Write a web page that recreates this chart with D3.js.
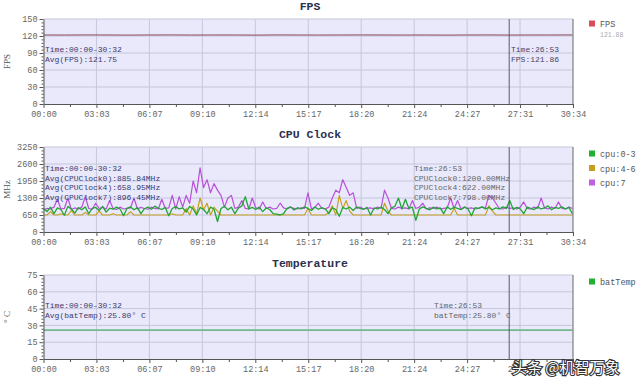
<!DOCTYPE html>
<html><head><meta charset="utf-8">
<script src="https://cdn.jsdelivr.net/npm/d3@7/dist/d3.min.js"></script>
<style>
html,body{margin:0;padding:0;background:#fff;}
svg{display:block;}
text{font-family:"Liberation Mono","DejaVu Sans Mono",monospace;}
</style></head>
<body>
<script>
// ---------------- data ----------------
const totalSeconds = 1834;               // 30:34 axis end
const xTickLabels = ["00:00","03:03","06:07","09:10","12:14","15:17","18:20","21:24","24:27","27:31","30:34"];
const cursorSeconds = 1613;              // 26:53
const sampleEnd = 1832;                  // 30:32

const fpsValues = [121.8,121.7,121.9,121.8,121.6,121.8,121.9,121.7,121.8,121.8,121.6,121.9,121.8,121.7,121.8,121.9,121.8,121.7,121.8,121.6,121.8,121.9,121.7,121.8,121.8,121.9];
const fpsTicks = [0,30,60,90,120,150];

const cpuTicks = [0,650,1300,1950,2600,3250];
const cpu03 = [900,780,950,700,920,860,640,980,880,720,
930,850,960,700,900,940,820,980,760,910,
870,950,880,620,900,960,850,930,700,890,
950,870,990,910,860,940,620,900,970,880,
920,760,980,880,650,940,860,700,950,880,
400,900,980,850,950,700,910,1000,1350,880,
940,860,950,780,920,860,700,680,650,700,
900,960,840,930,880,960,900,820,950,870,
930,880,700,920,860,600,940,880,950,820,
960,900,870,940,650,920,880,950,860,700,
920,980,1300,880,1250,900,950,450,880,960,
900,850,950,880,920,700,960,870,940,900,
860,950,880,620,930,900,960,880,940,850,
920,880,960,900,1200,860,940,880,700,950,
900,860,960,880,920,1000,850,940,900,960,
880,940,700];
const cpu46 = [650,650,780,650,650,700,650,650,820,650,
650,650,750,650,650,650,800,650,650,650,
700,650,650,650,650,780,650,650,650,650,
650,650,650,650,650,650,650,700,650,650,
650,900,650,1000,700,1300,850,1100,650,950,
800,650,650,650,650,650,650,650,650,650,
650,650,650,650,650,650,650,650,650,650,
650,650,650,650,650,650,900,650,650,650,
650,650,750,1000,650,1400,900,1200,800,650,
650,650,650,650,650,650,650,650,1100,800,
650,650,650,650,650,650,650,650,650,650,
650,650,650,650,650,650,650,650,900,650,
650,650,650,650,650,650,650,650,1000,800,
650,650,650,650,650,650,650,650,650,650,
650,650,650,650,650,650,650,650,650,650,
650,650,650];
const cpu7 = [850,900,880,950,1250,880,900,1300,860,920,
880,950,1350,900,870,1100,900,940,880,1200,
900,860,950,880,900,920,1300,880,940,900,
870,950,900,880,1250,900,920,1400,880,1350,
950,1400,1100,1950,1500,2450,1700,2000,1500,1850,
1600,1400,950,1300,1400,900,950,1200,900,880,
1300,920,880,1150,900,950,880,900,1100,920,
880,950,900,880,920,900,1500,880,950,1100,
900,880,950,1300,1600,1500,2000,1700,1400,1500,
900,950,880,900,920,880,950,900,1600,1300,
900,880,950,900,920,880,1200,900,950,1100,
880,920,900,950,880,900,920,1300,900,1200,
880,950,900,920,880,900,950,920,1400,1300,
1100,900,880,950,900,920,880,950,1150,900,
880,950,900,1300,920,880,950,900,1150,900,
880,950,900];

const tempValues = [25.8,25.8,25.8,25.8,25.8,25.8,25.8,25.8];
const tempTicks = [0,15,30,45,60,75];

// ---------------- layout ----------------
const W = 640, H = 385;
const svg = d3.select("body").append("svg").attr("width", W).attr("height", H);
const x = d3.scaleLinear().domain([0, totalSeconds]).range([43.5, 573]);
const majorSec = totalSeconds / 10;

function timeOf(arr, i){ return i * sampleEnd / (arr.length - 1); }

function panel(cfg){
  const y = d3.scaleLinear().domain([0, cfg.ticks[cfg.ticks.length-1]]).range([cfg.bottom, cfg.top]);
  const g = svg.append("g");
  g.append("rect").attr("x", x(0)).attr("y", cfg.top).attr("width", x(totalSeconds)-x(0)).attr("height", cfg.bottom-cfg.top).attr("fill", "#e9e9fb");
  d3.range(1,10).forEach(k=>{
    g.append("line").attr("x1", x(k*majorSec)).attr("x2", x(k*majorSec)).attr("y1", cfg.top).attr("y2", cfg.bottom).attr("stroke","#c6c6dc").attr("stroke-width",1);
  });
  cfg.ticks.slice(1).forEach(t=>{
    g.append("line").attr("x1", x(0)).attr("x2", x(totalSeconds)).attr("y1", y(t)).attr("y2", y(t)).attr("stroke","#c6c6dc").attr("stroke-width",1);
  });
  cfg.series.forEach(s=>{
    const line = d3.line().x((d,i)=>x(timeOf(s.values,i))).y(d=>y(d));
    g.append("path").datum(s.values).attr("d", line).attr("fill","none").attr("stroke", s.color).attr("stroke-width", s.width||1).attr("stroke-linejoin","round");
  });
  g.append("line").attr("x1", x(cursorSeconds)).attr("x2", x(cursorSeconds)).attr("y1", cfg.top).attr("y2", cfg.bottom).attr("stroke","#5a5a6a").attr("stroke-width",1);
  g.append("line").attr("x1", x(totalSeconds)).attr("x2", x(totalSeconds)).attr("y1", cfg.top).attr("y2", cfg.bottom).attr("stroke","#666").attr("stroke-width",1);
  const xAxis = d3.axisBottom(x).tickValues(d3.range(0,11).map(k=>k*majorSec)).tickFormat((d,i)=>xTickLabels[i]).tickSizeInner(4).tickSizeOuter(0).tickPadding(3);
  const xa = g.append("g").attr("transform", `translate(0,${cfg.bottom})`).call(xAxis);
  const xMinor = d3.axisBottom(x).tickValues(d3.range(0,10).map(k=>(k+0.5)*majorSec)).tickFormat("").tickSizeInner(3).tickSizeOuter(0);
  g.append("g").attr("transform", `translate(0,${cfg.bottom})`).call(xMinor).select(".domain").remove();
  const yAxis = d3.axisLeft(y).tickValues(cfg.ticks).tickFormat(d3.format("d")).tickSizeInner(4).tickSizeOuter(0).tickPadding(2);
  const ya = g.append("g").attr("transform", `translate(${x(0)},0)`).call(yAxis);
  const step = cfg.ticks[1]-cfg.ticks[0];
  const minor = [];
  for(let v=0; v<cfg.ticks[cfg.ticks.length-1]; v+=step/5){ if(Math.abs((v/step)-Math.round(v/step))>1e-6) minor.push(v); }
  g.append("g").attr("transform", `translate(${x(0)},0)`).call(d3.axisLeft(y).tickValues(minor).tickFormat("").tickSizeInner(2).tickSizeOuter(0)).select(".domain").remove();
  [xa, ya].forEach(a=>{
    a.select(".domain").attr("stroke","#555");
    a.selectAll("text").attr("fill","#666").style("font-size","8.5px").style("font-family",'"Liberation Mono",monospace');
  });
  g.selectAll(".tick line").attr("stroke","#555");
  svg.append("text").attr("x", 310).attr("y", cfg.titleY).attr("text-anchor","middle").attr("fill","#2b3150").style("font-size","11.5px").style("font-weight","bold").text(cfg.title);
  svg.append("text").attr("transform", `translate(10,${(cfg.top+cfg.bottom)/2}) rotate(-90)`).attr("text-anchor","middle").attr("fill","#555").style("font-family",'"Liberation Serif",serif').style("font-size","9px").text(cfg.ylabel);
  cfg.leftNotes.forEach((t,i)=>{
    svg.append("text").attr("x", 45).attr("y", cfg.noteY + i*9.5).attr("fill","#3a3a70").style("font-size","8px").text(t);
  });
  cfg.rightNotes.forEach((t,i)=>{
    svg.append("text").attr("x", cfg.rightX).attr("y", cfg.noteY + i*9.5).attr("fill", cfg.rightColor).style("font-size","8px").text(t);
  });
  cfg.legend.forEach((l,i)=>{
    const ly = cfg.legendY + i*14.5;
    svg.append("rect").attr("x", 589).attr("y", ly-3.5).attr("width", 6).attr("height", 6).attr("fill", l.color);
    svg.append("text").attr("x", 600).attr("y", ly+3).attr("fill","#555").style("font-size","8.5px").text(l.label);
  });
  return y;
}

panel({
  top:19, bottom:104, ticks:fpsTicks, title:"FPS", titleY:10, ylabel:"FPS",
  series:[{values:fpsValues, color:"#8c4a5a", width:1}],
  leftNotes:["Time:00:00-30:32","Avg(FPS):121.75"],
  rightNotes:["Time:26:53","FPS:121.86"], rightX:511, rightColor:"#44446a", noteY:52,
  legend:[{label:"FPS", color:"#d94c5a"}], legendY:24
});
svg.append("text").attr("x", 600).attr("y", 37).attr("fill","#aaa").style("font-size","6.5px").text("121.88");

panel({
  top:147, bottom:232, ticks:cpuTicks, title:"CPU Clock", titleY:138, ylabel:"MHz",
  series:[{values:cpu7, color:"#b84fd8", width:1.2},{values:cpu46, color:"#c8a020", width:1.2},{values:cpu03, color:"#22a534", width:1.3}],
  leftNotes:["Time:00:00-30:32","Avg(CPUClock0):885.84MHz","Avg(CPUClock4):658.95MHz","Avg(CPUClock7):896.45MHz"],
  rightNotes:["Time:26:53","CPUClock0:1200.00MHz","CPUClock4:622.00MHz","CPUClock7:798.00MHz"], rightX:414, rightColor:"#666", noteY:171,
  legend:[{label:"cpu:0-3", color:"#22b030"},{label:"cpu:4-6", color:"#c8a020"},{label:"cpu:7", color:"#c060e0"}], legendY:154
});

panel({
  top:275, bottom:359, ticks:tempTicks, title:"Temperature", titleY:267, ylabel:"° C",
  series:[{values:tempValues, color:"#6fb890", width:1.6}],
  leftNotes:["Time:00:00-30:32","Avg(batTemp):25.80° C"],
  rightNotes:["Time:26:53","batTemp:25.80° C"], rightX:434, rightColor:"#666", noteY:308,
  legend:[{label:"batTemp", color:"#22b030"}], legendY:282
});

svg.append("text").attr("x", 512).attr("y", 373).attr("fill","#fff").attr("stroke","#333").attr("stroke-width",2.2).attr("paint-order","stroke")
  .style("font-family",'"Noto Sans CJK SC",sans-serif').style("font-size","15px").text("头条 @机智万象");
</script>
</body></html>
